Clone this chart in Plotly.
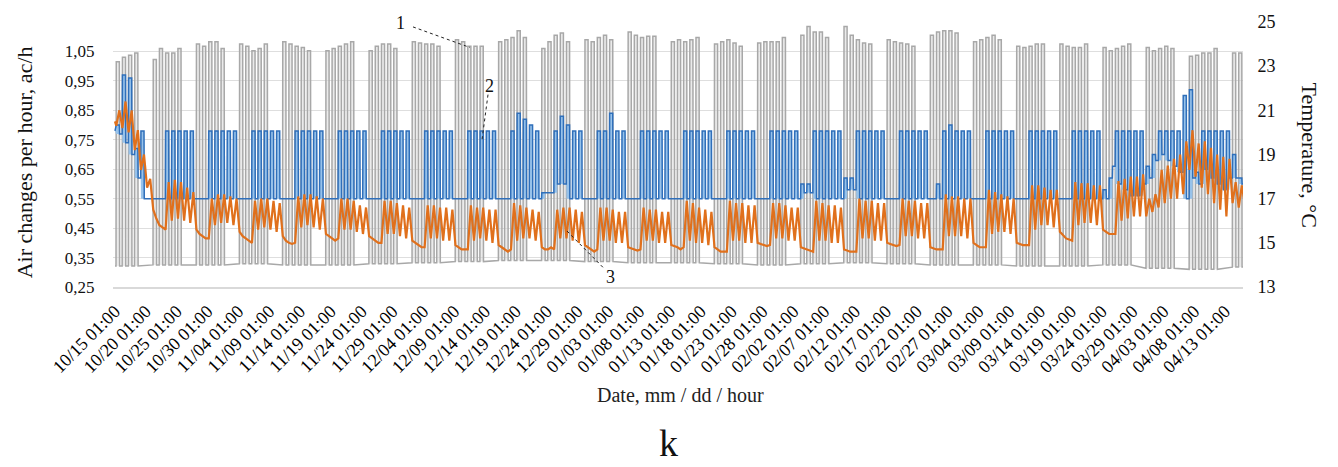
import datetime as dt
import plotly.graph_objects as go

# ---------------------------------------------------------------- data
WEEK0_MONDAY = dt.datetime(2024, 10, 14)          # rows below run Mon..Sun
FIRST_SAMPLE = dt.datetime(2024, 10, 15, 1)
LAST_SAMPLE = dt.datetime(2025, 4, 16, 5)

X_TICK_LABELS = ["10/15 01:00", "10/20 01:00", "10/25 01:00", "10/30 01:00", "11/04 01:00",
                 "11/09 01:00", "11/14 01:00", "11/19 01:00", "11/24 01:00", "11/29 01:00",
                 "12/04 01:00", "12/09 01:00", "12/14 01:00", "12/19 01:00", "12/24 01:00",
                 "12/29 01:00", "01/03 01:00", "01/08 01:00", "01/13 01:00", "01/18 01:00",
                 "01/23 01:00", "01/28 01:00", "02/02 01:00", "02/07 01:00", "02/12 01:00",
                 "02/17 01:00", "02/22 01:00", "02/27 01:00", "03/04 01:00", "03/09 01:00",
                 "03/14 01:00", "03/19 01:00", "03/24 01:00", "03/29 01:00", "04/03 01:00",
                 "04/08 01:00", "04/13 01:00"]
LEFT_TICKS = [0.25, 0.35, 0.45, 0.55, 0.65, 0.75, 0.85, 0.95, 1.05]
RIGHT_TICKS = [13, 15, 17, 19, 21, 23, 25]

# Series 1 (gray, °C): daytime plateau Mon..Fri per week
GRAY_PEAK = [
    [None, 23.2, 23.4, 23.5, 23.6],
    [23.3, 23.8, 23.6, 23.6, 23.8],
    [24.0, 23.9, 24.1, 24.1, 23.8],
    [24.0, 23.9, 23.7, 23.8, 24.0],
    [24.1, 24.0, 23.9, 23.85, 23.7],
    [23.7, 23.8, 23.9, 24.0, 24.1],
    [23.7, 23.9, 24.0, 24.0, 23.8],
    [24.1, 24.05, 24.0, 24.0, 23.9],
    [24.2, 24.1, 23.9, 23.9, 23.9],
    [24.1, 24.2, 24.3, 24.6, 24.3],
    [23.8, 24.1, 24.4, 24.5, 24.1],
    [24.2, 24.1, 24.3, 24.4, 24.2],
    [24.55, 24.4, 24.3, 24.35, 24.35],
    [24.1, 24.2, 24.1, 24.2, 24.3],
    [24.0, 24.1, 24.2, 24.05, 23.9],
    [24.05, 24.1, 24.1, 24.1, 24.3],
    [24.4, 24.8, 24.55, 24.55, 24.3],
    [24.8, 24.4, 24.2, 24.05, 24.0],
    [24.2, 24.1, 24.05, 24.0, 23.9],
    [24.4, 24.55, 24.6, 24.6, 24.5],
    [24.1, 24.2, 24.3, 24.4, 24.2],
    [23.9, 23.85, 23.9, 24.0, 24.0],
    [24.0, 23.9, 23.85, 23.85, 24.0],
    [23.85, 23.7, 23.8, 23.9, 24.0],
    [23.85, 23.7, 23.8, 23.9, 23.8],
    [23.45, 23.5, 23.6, 23.6, 23.8],
    [23.6, 23.6, None, None, None],
]
# Series 1 (gray, °C): night / weekend level per week
GRAY_LOW = [13.95, 14.0, 14.0, 14.05, 14.0, 14.0, 14.05, 14.1, 14.15, 14.2, 14.2, 14.15, 14.1,
            14.1, 14.05, 14.0, 14.05, 14.1, 14.05, 14.0, 14.0, 13.95, 13.95, 14.0, 13.85, 13.8, 13.9]

STD_DAY = [0.55, 0.55, 0.78, 0.78, 0.78, 0.78, 0.78]
STD_NIGHT = [0.55, 0.55, 0.55, 0.55, 0.55, 0.55, 0.55]
# Series 2 (blue, ac/h): daytime value Mon..Sun per week
BLUE_DAY = [
    [None, 0.80, 0.97, 0.96, 0.72, 0.78, 0.55],
    STD_DAY, STD_DAY, STD_DAY, STD_DAY, STD_DAY, STD_DAY, STD_DAY, STD_DAY,
    [0.55, 0.55, 0.78, 0.84, 0.82, 0.80, 0.78],
    [0.57, 0.57, 0.78, 0.83, 0.80, 0.78, 0.78],
    [0.55, 0.55, 0.78, 0.78, 0.84, 0.78, 0.78],
    STD_DAY, STD_DAY, STD_DAY, STD_DAY,
    [0.60, 0.60, 0.78, 0.78, 0.78, 0.78, 0.78],
    [0.62, 0.62, 0.78, 0.78, 0.78, 0.78, 0.78],
    STD_DAY,
    [0.55, 0.60, 0.78, 0.80, 0.78, 0.78, 0.78],
    STD_DAY, STD_DAY, STD_DAY,
    [0.58, 0.62, 0.78, 0.78, 0.78, 0.78, 0.78],
    [0.66, 0.70, 0.78, 0.78, 0.78, 0.78, 0.90],
    [0.92, 0.64, 0.78, 0.78, 0.78, 0.78, 0.78],
    [0.70, 0.62, None, None, None, None, None],
]
# Series 2 (blue, ac/h): night value Mon..Sun per week
BLUE_NIGHT = [
    [None, 0.77, 0.74, 0.70, 0.62, 0.55, 0.55],
    STD_NIGHT, STD_NIGHT, STD_NIGHT, STD_NIGHT, STD_NIGHT, STD_NIGHT, STD_NIGHT, STD_NIGHT,
    STD_NIGHT,
    [0.57, 0.57, 0.60, 0.60, 0.55, 0.55, 0.55],
    STD_NIGHT, STD_NIGHT, STD_NIGHT, STD_NIGHT, STD_NIGHT,
    [0.57, 0.57, 0.55, 0.55, 0.55, 0.55, 0.55],
    [0.58, 0.58, 0.55, 0.55, 0.55, 0.55, 0.55],
    STD_NIGHT, STD_NIGHT, STD_NIGHT, STD_NIGHT, STD_NIGHT,
    [0.55, 0.66, 0.60, 0.58, 0.56, 0.56, 0.60],
    [0.62, 0.68, 0.70, 0.68, 0.66, 0.64, 0.55],
    [0.62, 0.60, 0.65, 0.62, 0.60, 0.58, 0.62],
    [0.62, 0.60, None, None, None, None, None],
]
# Series 3 (orange, °C): morning low Mon..Sun per week
ORANGE_LO = [
    [None, 20.3, 20.2, 20.0, 19.2, 18.3, 17.5],
    [16.5, 15.8, 15.6, 16.0, 16.1, 16.0, 15.9],
    [15.6, 15.3, 15.2, 15.8, 15.9, 15.9, 15.8],
    [15.5, 15.2, 15.0, 15.6, 15.7, 15.6, 15.5],
    [15.3, 15.0, 15.0, 15.7, 15.8, 15.7, 15.6],
    [15.4, 15.2, 15.2, 15.6, 15.6, 15.5, 15.4],
    [15.3, 15.1, 15.0, 15.4, 15.4, 15.3, 15.2],
    [15.1, 14.9, 14.8, 15.2, 15.2, 15.1, 15.1],
    [14.9, 14.7, 14.7, 15.1, 15.2, 15.1, 15.0],
    [14.9, 14.7, 14.7, 15.1, 15.2, 15.2, 15.1],
    [14.8, 14.7, 14.7, 15.2, 15.2, 15.1, 15.0],
    [14.9, 14.7, 14.7, 15.1, 15.1, 15.0, 15.0],
    [14.8, 14.7, 14.7, 15.1, 15.1, 15.0, 15.0],
    [14.9, 14.8, 14.8, 15.1, 15.0, 15.0, 14.9],
    [14.8, 14.6, 14.6, 15.1, 15.1, 15.0, 15.0],
    [15.0, 14.9, 14.9, 15.2, 15.2, 15.1, 15.1],
    [14.8, 14.7, 14.6, 15.1, 15.1, 15.0, 15.0],
    [14.7, 14.6, 14.6, 15.2, 15.2, 15.1, 15.1],
    [15.0, 14.9, 14.9, 15.3, 15.3, 15.2, 15.2],
    [14.8, 14.7, 14.7, 15.3, 15.3, 15.3, 15.2],
    [15.0, 14.8, 14.8, 15.4, 15.5, 15.5, 15.4],
    [15.0, 14.9, 14.9, 15.6, 15.8, 15.8, 15.7],
    [15.5, 15.2, 15.1, 15.8, 15.9, 15.9, 15.8],
    [15.6, 15.4, 15.4, 16.0, 16.1, 16.2, 16.2],
    [16.2, 16.4, 16.6, 16.8, 17.0, 17.0, 17.2],
    [18.3, 18.0, 17.5, 17.2, 16.8, 16.5, 16.2],
    [16.8, 16.6, None, None, None, None, None],
]
# Series 3 (orange, °C): evening high Mon..Sun per week
ORANGE_HI = [
    [None, 21.0, 21.4, 21.0, 20.1, 19.0, 17.9],
    [16.1, 15.7, 17.75, 17.85, 17.75, 17.5, 17.3],
    [15.4, 15.2, 17.0, 17.2, 17.2, 17.1, 17.0],
    [15.3, 15.1, 16.9, 17.0, 17.0, 16.9, 16.8],
    [15.1, 14.95, 17.1, 17.2, 17.2, 17.1, 17.0],
    [15.3, 15.1, 17.0, 17.0, 16.9, 16.7, 16.6],
    [15.2, 15.0, 16.9, 16.9, 16.8, 16.7, 16.6],
    [15.0, 14.8, 16.7, 16.7, 16.6, 16.6, 16.5],
    [14.8, 14.7, 16.7, 16.6, 16.6, 16.5, 16.5],
    [14.8, 14.6, 16.8, 16.7, 16.6, 16.5, 16.4],
    [14.7, 14.8, 16.5, 16.6, 16.6, 16.5, 16.4],
    [14.8, 14.6, 16.6, 16.6, 16.5, 16.4, 16.4],
    [14.75, 14.65, 16.6, 16.5, 16.5, 16.4, 16.4],
    [14.85, 14.7, 16.9, 16.8, 16.6, 16.5, 16.4],
    [14.7, 14.6, 16.9, 16.8, 16.8, 16.7, 16.7],
    [14.95, 14.85, 16.8, 16.8, 16.7, 16.6, 16.6],
    [14.75, 14.65, 16.9, 16.8, 16.7, 16.7, 16.6],
    [14.65, 14.6, 17.0, 16.9, 16.9, 16.8, 16.8],
    [14.95, 14.85, 17.0, 16.9, 16.9, 16.8, 16.8],
    [14.75, 14.7, 17.2, 17.1, 17.1, 17.0, 17.0],
    [14.9, 14.8, 17.4, 17.3, 17.2, 17.1, 17.0],
    [14.95, 14.9, 17.6, 17.6, 17.5, 17.4, 17.4],
    [15.35, 15.15, 17.75, 17.7, 17.7, 17.6, 17.6],
    [15.5, 15.4, 17.8, 17.9, 18.0, 18.0, 18.1],
    [17.0, 17.2, 18.3, 18.5, 18.8, 19.0, 19.6],
    [20.1, 19.5, 19.6, 19.3, 19.0, 18.9, 18.8],
    [17.75, 17.6, None, None, None, None, None],
]
START_VALUES = {"gray": 13.95, "blue": 0.78, "orange": 20.5}
ORANGE_END = 16.8


# ---------------------------------------------------------------- series from the tables
def hours(n):
    return dt.timedelta(hours=n)


def day_of(w, i):
    return WEEK0_MONDAY + dt.timedelta(days=7 * w + i)


gray_x, gray_y, gray_base = [FIRST_SAMPLE], [START_VALUES["gray"]], [GRAY_LOW[0]]
for w, row in enumerate(GRAY_PEAK):
    for i, peak in enumerate(row):
        if peak is None:
            continue
        d = day_of(w, i)
        gray_x += [d + hours(5), d + hours(6), d + hours(18), d + hours(19)]
        gray_y += [GRAY_LOW[w], peak, peak, GRAY_LOW[w]]
        gray_base += [GRAY_LOW[w]] * 4
gray_x.append(LAST_SAMPLE)
gray_y.append(GRAY_LOW[-1])
gray_base.append(GRAY_LOW[-1])

blue_x, blue_y, blue_base = [FIRST_SAMPLE], [START_VALUES["blue"]], [START_VALUES["blue"]]
for w, (drow, nrow) in enumerate(zip(BLUE_DAY, BLUE_NIGHT)):
    for i, (dv, nv) in enumerate(zip(drow, nrow)):
        if dv is None:
            continue
        d = day_of(w, i)
        blue_x += [d + hours(6), d + hours(18), d + hours(19), d + hours(29)]
        blue_y += [dv, dv, nv, nv]
        blue_base += [min(nv, blue_y[-5]), min(nv, blue_y[-5]), nv, nv]

or_x, or_y = [FIRST_SAMPLE], [START_VALUES["orange"]]
for w, (lrow, hrow) in enumerate(zip(ORANGE_LO, ORANGE_HI)):
    for i, (lo, hi) in enumerate(zip(lrow, hrow)):
        if lo is None:
            continue
        d = day_of(w, i)
        or_x += [d + hours(6), d + hours(18)]
        or_y += [lo, hi]
or_x.append(LAST_SAMPLE)
or_y.append(ORANGE_END)


def label_date(lbl):
    m, d = int(lbl[:2]), int(lbl[3:5])
    return dt.datetime(2024 if m >= 10 else 2025, m, d, 1)


tick_vals = [label_date(s) for s in X_TICK_LABELS]

# ---------------------------------------------------------------- figure
SERIF = "Liberation Serif, Times New Roman, serif"
L, R, T, B, W, H = 113, 95, 17, 180, 1338, 467
PW, PH = W - L - R, H - T - B
TEMP_RANGE = [13, 25]


def px(x, y):
    return (x - L) / PW, (H - B - y) / PH


fig = go.Figure()
# y  : temperature (right side, drawn first -> gray at the back)
# y2 : air changes (left side, overlays y -> blue above gray)
# y3 : temperature again, hidden (overlays -> orange on top)
fig.add_trace(go.Scatter(x=gray_x, y=gray_base, yaxis="y", mode="lines",
                         line=dict(width=0), hoverinfo="skip"))
fig.add_trace(go.Scatter(x=gray_x, y=gray_y, yaxis="y", mode="lines", fill="tonexty",
                         fillcolor="rgba(215,215,215,0.5)",
                         line=dict(color="#a8a8a8", width=1.5), name="1"))
fig.add_trace(go.Scatter(x=blue_x, y=blue_base, yaxis="y2",
                         mode="lines", line=dict(width=0), hoverinfo="skip"))
fig.add_trace(go.Scatter(x=blue_x, y=blue_y, yaxis="y2", mode="lines", fill="tonexty",
                         fillcolor="#97c2ea",
                         line=dict(color="#2f6fba", width=1.5), name="2"))
fig.add_trace(go.Scatter(x=or_x, y=or_y, yaxis="y3", mode="lines",
                         line=dict(color="#e0701c", width=2.2), name="3"))

x0 = FIRST_SAMPLE - dt.timedelta(days=0.32)
x1 = FIRST_SAMPLE + dt.timedelta(days=182.9)


def note(text, x, y, size, angle=0, color="#111"):
    xx, yy = px(x, y)
    return dict(x=xx, y=yy, xref="paper", yref="paper", text=text, showarrow=False,
                xanchor="center", yanchor="middle", textangle=angle,
                font=dict(family=SERIF, size=size, color=color))


annotations = [
    note("1", 400, 18, 18),
    note("2", 489, 82, 18),
    note("3", 610, 277, 18),
    note("Date, mm / dd / hour", 680, 397, 20, color="#222"),
    note("k", 668, 446, 38),
    note("Air changes per hour, ac/h", 24, 160, 22, angle=-90),
    note("Temperature, °C", 1309, 152, 22, angle=90),
]

shapes = []
for (a, b) in [((413, 22), (470, 43)), ((488, 91), (482, 137)), ((567, 230), (603, 267))]:
    xa, ya = px(*a)
    xb, yb = px(*b)
    shapes.append(dict(type="line", xref="paper", yref="paper", x0=xa, y0=ya, x1=xb, y1=yb,
                       line=dict(color="#222", width=1, dash="dot")))

fig.update_layout(
    width=W, height=H, margin=dict(l=L, r=R, t=T, b=B),
    paper_bgcolor="white", plot_bgcolor="white", showlegend=False,
    font=dict(family=SERIF, color="#111"),
    xaxis=dict(type="date", range=[x0, x1], tickvals=tick_vals, ticktext=X_TICK_LABELS,
               tickangle=-45, tickfont=dict(family=SERIF, size=18, color="#000"),
               showgrid=False, zeroline=False, showline=True, linecolor="#d9d9d9", linewidth=1.5,
               ticks="outside", ticklen=5, tickcolor="rgba(0,0,0,0)"),
    yaxis=dict(range=TEMP_RANGE, tickvals=RIGHT_TICKS, ticktext=[str(v) for v in RIGHT_TICKS],
               side="right", tickfont=dict(family=SERIF, size=18, color="#111"),
               showgrid=False, zeroline=False, showline=False,
               ticks="outside", ticklen=10, tickcolor="rgba(0,0,0,0)"),
    yaxis2=dict(range=[0.25, 1.15], tickvals=LEFT_TICKS, overlaying="y", side="left",
                ticktext=[f"{v:.2f}".replace(".", ",") for v in LEFT_TICKS],
                tickfont=dict(family=SERIF, size=17, color="#111"),
                showgrid=True, gridcolor="#dedede", gridwidth=1, zeroline=False, showline=False,
                ticks="outside", ticklen=14, tickcolor="rgba(0,0,0,0)"),
    yaxis3=dict(range=TEMP_RANGE, overlaying="y", side="right", visible=False,
                showgrid=False, zeroline=False),
    annotations=annotations, shapes=shapes,
)

fig.write_html("out.html")
